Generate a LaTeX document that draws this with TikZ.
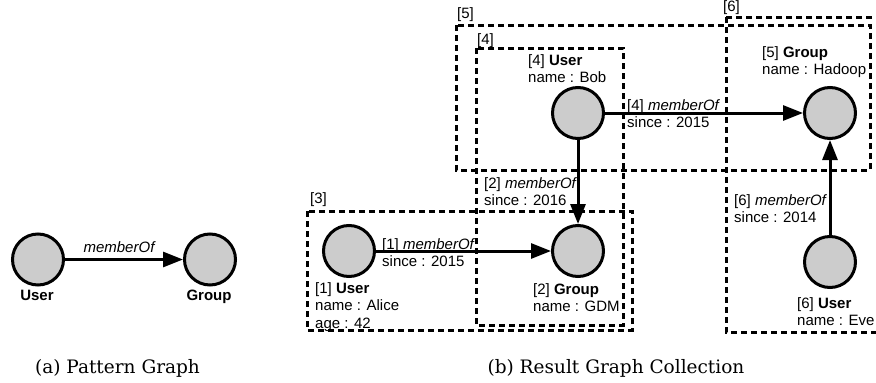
\documentclass[tikz,border=0pt]{standalone}
\usepackage{fontspec}
\setmainfont{Liberation Sans}
\newfontfamily\capfont{DejaVu Serif}
\usetikzlibrary{arrows.meta}
\definecolor{vgray}{RGB}{204,204,204}
\tikzset{
  vertex/.style={circle, draw=black, fill=vgray, line width=3pt, minimum size=51pt, inner sep=0pt},
  edge/.style={line width=3pt, -{Triangle[length=20pt,width=15pt]}},
  % multi-line labels are placed by the baseline of their last line
  lbl/.style={anchor=base west, inner sep=0pt, align=left, font=\fontsize{15}{17.5}\selectfont},
  clbl/.style={anchor=base, inner sep=0pt, font=\fontsize{15}{17.5}\selectfont},
  gbox/.style={draw=black, line width=3pt, dash pattern=on 6pt off 4pt},
  caption/.style={anchor=base, inner sep=0pt, font=\capfont\fontsize{18.5}{21}\selectfont}
}
\begin{document}
\begin{tikzpicture}[x=1pt, y=-1pt]
\clip (0,0) rectangle (876,383);
\useasboundingbox (0,0) rectangle (876,383);

% ---- (a) pattern graph ----
\node[vertex] (pu) at (38,259.5) {};
\node[vertex] (pg) at (210,259.5) {};
\draw[edge] (pu) -- (pg);
\node[clbl] (pe) at (119,252) {\itshape memberOf};
\node[clbl] (pul) at (37,300) {\bfseries User};
\node[clbl] (pgl) at (209,300) {\bfseries Group};
\node[caption] (capa) at (117.5,373) {(a) Pattern Graph};

% ---- (b) result graph collection: graph boxes ----
\draw[gbox] (456,25) rectangle (870,170);
\draw[gbox] (476,48) rectangle (623,325);
\draw[gbox] (307,211) rectangle (632,330);
\draw[gbox] (726,17) rectangle (884,332);
\node[lbl] (b5) at (457,18) {[5]};
\node[lbl] (b4) at (477,44) {[4]};
\node[lbl] (b6) at (723,11) {[6]};
\node[lbl] (b3) at (310,203) {[3]};

% ---- vertices ----
\node[vertex] (v1) at (349,251) {};
\node[vertex] (v2) at (578,251) {};
\node[vertex] (v4) at (578,113) {};
\node[vertex] (v5) at (830,113) {};
\node[vertex] (v6) at (830,262) {};

% ---- edges ----
\draw[edge] (v1) -- (v2);
\draw[edge] (v4) -- (v2);
\draw[edge] (v4) -- (v5);
\draw[edge] (v6) -- (v5);

% ---- vertex labels ----
\node[lbl] (l1) at (315,328) {[1] \textbf{User}\\name : Alice\\age : 42};
\node[lbl] (l2) at (533,311.5) {[2] \textbf{Group}\\name : GDM};
\node[lbl] (l4) at (528,82.5) {[4] \textbf{User}\\name : Bob};
\node[lbl] (l5) at (762,74.5) {[5] \textbf{Group}\\name : Hadoop};
\node[lbl] (l6) at (797,325.5) {[6] \textbf{User}\\name : Eve};

% ---- edge labels ----
\node[lbl] (e1) at (382,266.5) {[1] \textit{memberOf}\\since : 2015};
\node[lbl] (e2) at (484,205.5) {[2] \textit{memberOf}\\since : 2016};
\node[lbl] (e4) at (627,127.5) {[4] \textit{memberOf}\\since : 2015};
\node[lbl] (e6) at (734,222.5) {[6] \textit{memberOf}\\since : 2014};

\node[caption] (capb) at (616,373) {(b) Result Graph Collection};
\end{tikzpicture}
\end{document}
